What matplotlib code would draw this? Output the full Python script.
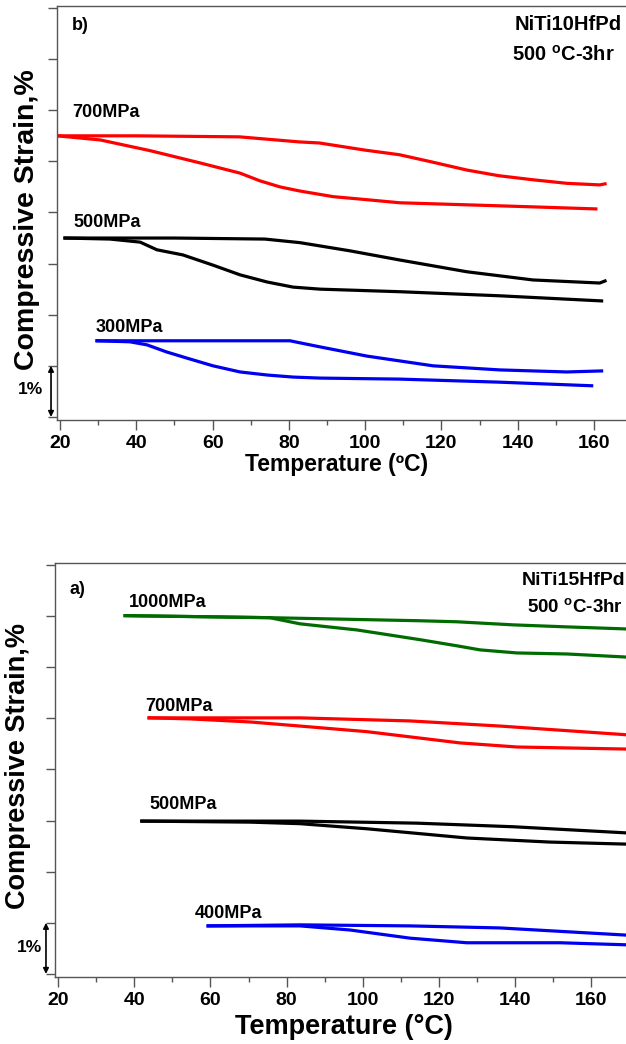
"""Compressive strain vs temperature for NiTiHfPd alloys (two panels)."""
import numpy as np
import matplotlib
matplotlib.use('Agg')
import matplotlib.pyplot as plt
from matplotlib.ticker import MultipleLocator
import matplotlib.transforms as mtransforms

plt.rcParams['font.family'] = ['Liberation Sans', 'DejaVu Sans']
plt.rcParams['font.weight'] = 'bold'
plt.rcParams['mathtext.fontset'] = 'custom'
plt.rcParams['mathtext.rm'] = 'Liberation Sans:bold'
plt.rcParams['mathtext.bf'] = 'Liberation Sans:bold'

# ------------------------------------------------------------------
# Panel b) NiTi10HfPd, 500 C-3hr
# ------------------------------------------------------------------
b700_up_T = [19.2, 40, 67, 82.9, 88, 100, 109, 118, 126.7, 135, 144, 153, 161.5, 162.9]
b700_up_s = [5.50, 5.50, 5.48, 5.38, 5.36, 5.22, 5.13, 4.98, 4.83, 4.72, 4.64, 4.57, 4.54, 4.56]
b700_lo_T = [19.2, 30.5, 43.6, 56.7, 67.2, 72.4, 77.7, 82.9, 91.6, 100.5, 109.1, 126.7, 144, 160.5]
b700_lo_s = [5.50, 5.42, 5.21, 4.97, 4.77, 4.62, 4.50, 4.42, 4.31, 4.25, 4.19, 4.15, 4.11, 4.07]

b500_up_T = [21.3, 50, 73.7, 82.9, 96, 109.1, 126.7, 144, 161.5, 162.9]
b500_up_s = [3.50, 3.50, 3.48, 3.41, 3.25, 3.07, 2.84, 2.68, 2.62, 2.66]
b500_lo_T = [21.3, 33.1, 41, 45.4, 52.2, 60.1, 67.2, 74.3, 81.1, 88.2, 109.1, 135.3, 162]
b500_lo_s = [3.50, 3.48, 3.42, 3.27, 3.17, 2.97, 2.78, 2.64, 2.54, 2.50, 2.45, 2.37, 2.27]

b300_up_T = [29.7, 60, 80.3, 82.9, 88.2, 100.5, 117.8, 135.3, 152.9, 162]
b300_up_s = [1.49, 1.49, 1.49, 1.45, 1.37, 1.19, 1.00, 0.92, 0.88, 0.90]
b300_lo_T = [29.7, 38.3, 42.8, 48, 53.3, 60.1, 67.2, 74.3, 81.1, 88.2, 109.1, 135.3, 159.4]
b300_lo_s = [1.49, 1.47, 1.41, 1.27, 1.15, 1.00, 0.88, 0.82, 0.78, 0.76, 0.74, 0.68, 0.61]

# ------------------------------------------------------------------
# Panel a) NiTi15HfPd, 500 C-3hr
# ------------------------------------------------------------------
a1000_up_T = [37.6, 57.3, 75.6, 88.8, 115, 124.7, 139.4, 153.6, 169.1]
a1000_up_s = [7.01, 6.99, 6.97, 6.95, 6.91, 6.89, 6.83, 6.79, 6.75]
a1000_lo_T = [37.6, 57.3, 75.6, 83.5, 98.5, 115, 124.7, 130.8, 140.5, 153.6, 169.1]
a1000_lo_s = [7.01, 6.99, 6.97, 6.85, 6.73, 6.54, 6.42, 6.34, 6.28, 6.26, 6.20]

a700_up_T = [43.9, 57.3, 83.5, 112.4, 136, 169.1]
a700_up_s = [5.01, 5.01, 5.01, 4.95, 4.85, 4.68]
a700_lo_T = [43.9, 54.6, 70.4, 83.5, 101.1, 125.5, 140.5, 169.1]
a700_lo_s = [5.01, 4.99, 4.93, 4.85, 4.74, 4.52, 4.44, 4.40]

a500_up_T = [42, 70.4, 83.5, 114.2, 139.4, 169.1]
a500_up_s = [2.99, 2.99, 2.99, 2.95, 2.88, 2.76]
a500_lo_T = [42, 70.4, 83.5, 101.1, 127.3, 149.1, 169.1]
a500_lo_s = [2.99, 2.97, 2.94, 2.84, 2.66, 2.58, 2.54]

a400_up_T = [59.4, 83.5, 112.4, 136, 169.1]
a400_up_s = [0.94, 0.96, 0.94, 0.90, 0.76]
a400_lo_T = [59.4, 75.6, 83.5, 96.6, 112.4, 127.3, 151.8, 169.1]
a400_lo_s = [0.94, 0.94, 0.94, 0.86, 0.70, 0.61, 0.61, 0.57]

RED = '#ff0000'
BLACK = '#000000'
BLUE = '#0000f0'
GREEN = '#006b00'
AXIS_COL = '#555555'
LW = 2.3


def style_axes(ax, xlim):
    ax.set_xlim(*xlim)
    ax.set_ylim(-0.06, 8.04)
    ax.spines['right'].set_visible(False)
    for sp in ['left', 'top', 'bottom']:
        ax.spines[sp].set_color(AXIS_COL)
        ax.spines[sp].set_linewidth(1.0)
    ax.xaxis.set_major_locator(MultipleLocator(20))
    ax.xaxis.set_minor_locator(MultipleLocator(10))
    ax.yaxis.set_major_locator(MultipleLocator(1))
    ax.tick_params(axis='x', which='major', length=7, width=1, color=AXIS_COL,
                   labelsize=14, pad=4)
    ax.tick_params(axis='x', which='minor', length=3.5, width=1, color=AXIS_COL)
    ax.tick_params(axis='y', which='major', length=6.5, width=1, color=AXIS_COL,
                   labelleft=False)
    for lab in ax.get_xticklabels():
        lab.set_fontweight('bold')
    # transform for the 1% scale bar: x in axes fraction, y in data
    trans = mtransforms.blended_transform_factory(ax.transAxes, ax.transData)
    return trans


fig = plt.figure(figsize=(6.26, 10.44), dpi=100)
W, H = 626.0, 1044.0

# ==================================================================
# Top panel: b)
# ==================================================================
ax = fig.add_axes([57 / W, 1 - 420 / H, 1 - 57 / W, (420 - 6) / H])
trans = style_axes(ax, (19.2, 168.4))
ax.plot(b700_up_T, b700_up_s, color=RED, lw=LW)
ax.plot(b700_lo_T, b700_lo_s, color=RED, lw=LW)
ax.plot(b500_up_T, b500_up_s, color=BLACK, lw=LW)
ax.plot(b500_lo_T, b500_lo_s, color=BLACK, lw=LW)
ax.plot(b300_up_T, b300_up_s, color=BLUE, lw=LW)
ax.plot(b300_lo_T, b300_lo_s, color=BLUE, lw=LW)

ax.text(23.1, 7.65, 'b)', fontsize=13, fontweight='bold', va='center')
ax.text(23.1, 5.95, '700MPa', fontsize=13, fontweight='bold', va='center')
ax.text(23.4, 3.80, '500MPa', fontsize=13, fontweight='bold', va='center')
ax.text(29.2, 1.74, '300MPa', fontsize=13, fontweight='bold', va='center')
ax.text(167.3, 7.67, 'NiTi10HfPd', fontsize=14.5, fontweight='bold',
        va='center', ha='right')
ax.text(138.5, 7.08, r'500 $^{\mathbf{o}}$C-3hr', fontsize=14.5,
        fontweight='bold', va='center')

ax.annotate('', xy=(-0.0105, 0), xytext=(-0.0105, 1), xycoords=trans,
            textcoords=trans, annotation_clip=False,
            arrowprops=dict(arrowstyle='<|-|>', color='black', lw=1.2,
                            mutation_scale=8, shrinkA=0, shrinkB=0))
ax.text(-0.046, 0.53, '1%', transform=trans, fontsize=12.5, fontweight='bold',
        ha='center', va='center', clip_on=False)

fig.text(27 / W, 1 - 220 / H, 'Compressive Strain,%', rotation=90,
         fontsize=20.5, fontweight='bold', ha='center', va='center')
fig.text(337 / W, 1 - 465 / H, 'Temperature (ºC)', fontsize=16.5,
         fontweight='bold', ha='center', va='center')

# ==================================================================
# Bottom panel: a)
# ==================================================================
ax = fig.add_axes([55 / W, 1 - 977 / H, 1 - 55 / W, (977 - 563) / H])
trans = style_axes(ax, (19.2, 169.1))
ax.plot(a1000_up_T, a1000_up_s, color=GREEN, lw=LW)
ax.plot(a1000_lo_T, a1000_lo_s, color=GREEN, lw=LW)
ax.plot(a700_up_T, a700_up_s, color=RED, lw=LW)
ax.plot(a700_lo_T, a700_lo_s, color=RED, lw=LW)
ax.plot(a500_up_T, a500_up_s, color=BLACK, lw=LW)
ax.plot(a500_lo_T, a500_lo_s, color=BLACK, lw=LW)
ax.plot(a400_up_T, a400_up_s, color=BLUE, lw=LW)
ax.plot(a400_lo_T, a400_lo_s, color=BLUE, lw=LW)

ax.text(23.1, 7.53, 'a)', fontsize=13, fontweight='bold', va='center')
ax.text(38.6, 7.26, '1000MPa', fontsize=13, fontweight='bold', va='center')
ax.text(42.8, 5.24, '700MPa', fontsize=13, fontweight='bold', va='center')
ax.text(43.9, 3.31, '500MPa', fontsize=13, fontweight='bold', va='center')
ax.text(56.0, 1.19, '400MPa', fontsize=13, fontweight='bold', va='center')
ax.text(169.0, 7.69, 'NiTi15HfPd', fontsize=14, fontweight='bold',
        va='center', ha='right')
ax.text(143.0, 7.16, r'500 $^{\mathbf{o}}$C-3hr', fontsize=13.5,
        fontweight='bold', va='center')

ax.annotate('', xy=(-0.0158, 0), xytext=(-0.0158, 1), xycoords=trans,
            textcoords=trans, annotation_clip=False,
            arrowprops=dict(arrowstyle='<|-|>', color='black', lw=1.2,
                            mutation_scale=8, shrinkA=0, shrinkB=0))
ax.text(-0.0455, 0.51, '1%', transform=trans, fontsize=12.5, fontweight='bold',
        ha='center', va='center', clip_on=False)

fig.text(18 / W, 1 - 766 / H, 'Compressive Strain,%', rotation=90,
         fontsize=19.5, fontweight='bold', ha='center', va='center')
fig.text(344 / W, 1 - 1027 / H, 'Temperature (°C)', fontsize=19.5,
         fontweight='bold', ha='center', va='center')

fig.savefig('out.png', dpi=100)
